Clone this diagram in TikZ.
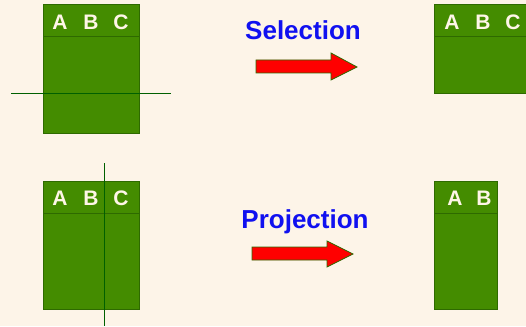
\documentclass[tikz,border=0pt]{standalone}
\usepackage{fontspec}
\setmainfont{Liberation Sans}
\definecolor{bg}{HTML}{FDF4E8}
\definecolor{tgreen}{HTML}{448C00}
\definecolor{tborder}{HTML}{2E6A00}
\definecolor{cutline}{HTML}{006000}
\definecolor{ltext}{HTML}{FFF6E8}
\definecolor{opblue}{HTML}{1010F0}
\definecolor{arrred}{HTML}{FF0000}
\begin{document}
\begin{tikzpicture}[x=1pt,y=-1pt,
  tablebox/.style={fill=tgreen,draw=tborder,line width=1pt},
  hdrline/.style={draw=tborder,line width=1pt},
  cut/.style={draw=cutline,line width=1pt},
  colname/.style={font=\fontsize{21}{21}\selectfont\bfseries,text=ltext,inner sep=0pt,anchor=center},
  optext/.style={font=\fontsize{26}{26}\selectfont\bfseries,text=opblue,inner sep=0pt,anchor=center},
  bigarrow/.style={fill=arrred,draw=tborder,line width=0.8pt}]
\fill[bg] (0,0) rectangle (526,326);
\useasboundingbox (0,0) rectangle (526,326);
% top-left table
\draw[tablebox] (43,5) rectangle (139,133);
\draw[hdrline] (43,37) -- (139,37);
\node[colname] (tla) at (60,22) {A};
\node[colname] (tlb) at (91,22) {B};
\node[colname] (tlc) at (121,22) {C};
\draw[cut] (11,93) -- (171,93);
% selection
\node[optext] (sel) at (303,30) {Selection};
\draw[bigarrow] (256,60) -- (331,60) -- (331,53) -- (357,67) -- (331,80) -- (331,73) -- (256,73) -- cycle;
% top-right table
\draw[tablebox] (434,5) rectangle (530,93);
\draw[hdrline] (434,37) -- (530,37);
\node[colname] (tra) at (452,22) {A};
\node[colname] (trb) at (483,22) {B};
\node[colname] (trc) at (513,22) {C};
% bottom-left table
\draw[tablebox] (43,181) rectangle (139,309);
\draw[hdrline] (43,213) -- (139,213);
\node[colname] (bla) at (60,198) {A};
\node[colname] (blb) at (91,198) {B};
\node[colname] (blc) at (121,198) {C};
\draw[cut] (104,163) -- (104,326);
% projection
\node[optext] (proj) at (305,222) {Projection};
\draw[bigarrow] (252,247) -- (327,247) -- (327,241) -- (353,254) -- (327,267) -- (327,260) -- (252,260) -- cycle;
% bottom-right table
\draw[tablebox] (434,181) rectangle (497,309);
\draw[hdrline] (434,213) -- (497,213);
\node[colname] (bra) at (455,198) {A};
\node[colname] (brb) at (484,198) {B};
\end{tikzpicture}
\end{document}
